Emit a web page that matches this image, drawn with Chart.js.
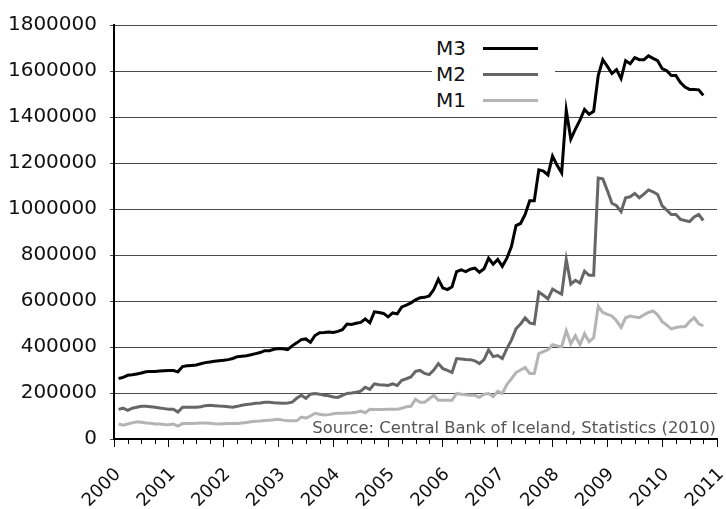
<!DOCTYPE html>
<html>
<head>
<meta charset="utf-8">
<script src="https://cdn.jsdelivr.net/npm/chart.js@4.4.1/dist/chart.umd.min.js"></script>
<style>
    body { margin: 0; background: #fff; }
    #wrap { position: relative; width: 726px; height: 509px; }
    #legend {
        position: absolute; left: 432px; top: 35px; width: 123px;
        background: #fff; font: 20px "DejaVu Sans", sans-serif; color: #111;
    }
    .item { display: flex; align-items: center; height: 26px; }
    .item .lbl { width: 51px; padding-left: 4px; box-sizing: border-box; }
    .item .line { width: 55px; height: 3px; }
</style>
</head>
<body>
<div id="wrap">
    <canvas id="chart" width="726" height="509"></canvas>
    <div id="legend"></div>
</div>
<script>
// Money supply in Iceland, monthly (end of month), Jan 2000 - Sep 2010
const startYear = 2000;
const yearTicks = [2000, 2001, 2002, 2003, 2004, 2005, 2006, 2007, 2008, 2009, 2010, 2011];
const yTicks = [0, 200000, 400000, 600000, 800000, 1000000, 1200000, 1400000, 1600000, 1800000];
const seriesNames = ['M3', 'M2', 'M1'];
const sourceNote = 'Source: Central Bank of Iceland, Statistics (2010)';

const m3 = [
    263000, 268000, 277000, 279000, 283000, 287000, 292000, 294000, 294000, 296000, 297000, 298000,
    298000, 292000, 315000, 318000, 320000, 322000, 327000, 332000, 335000, 338000, 340000, 342000,
    345000, 350000, 358000, 360000, 362000, 366000, 371000, 376000, 384000, 384000, 390000, 393000,
    392000, 388000, 405000, 418000, 432000, 435000, 420000, 450000, 462000, 463000, 465000, 463000,
    468000, 475000, 500000, 498000, 503000, 507000, 522000, 505000, 553000, 550000, 546000, 531000,
    548000, 544000, 574000, 582000, 592000, 605000, 614000, 616000, 622000, 650000, 695000, 656000,
    650000, 662000, 728000, 735000, 728000, 738000, 743000, 725000, 740000, 786000, 760000, 781000,
    751000, 786000, 837000, 928000, 937000, 976000, 1036000, 1036000, 1170000, 1165000, 1148000, 1230000,
    1190000, 1157000, 1429000, 1304000, 1347000, 1386000, 1433000, 1412000, 1425000, 1580000, 1649000, 1620000,
    1589000, 1606000, 1567000, 1645000, 1632000, 1658000, 1649000, 1649000, 1666000, 1655000, 1645000, 1610000,
    1601000, 1580000, 1580000, 1550000, 1530000, 1520000, 1520000, 1518000, 1494000
];
const m2 = [
    129000, 134000, 125000, 134000, 138000, 142000, 142000, 140000, 138000, 135000, 132000, 129000,
    129000, 117000, 138000, 138000, 138000, 138000, 140000, 145000, 147000, 145000, 143000, 142000,
    140000, 138000, 142000, 147000, 150000, 152000, 155000, 157000, 160000, 160000, 158000, 157000,
    155000, 157000, 160000, 177000, 190000, 177000, 195000, 198000, 195000, 190000, 188000, 183000,
    181000, 190000, 198000, 200000, 203000, 208000, 225000, 216000, 240000, 236000, 235000, 233000,
    240000, 233000, 255000, 262000, 270000, 294000, 298000, 285000, 280000, 300000, 328000, 306000,
    298000, 289000, 350000, 348000, 346000, 345000, 340000, 328000, 345000, 388000, 358000, 363000,
    350000, 393000, 430000, 479000, 500000, 527000, 505000, 500000, 639000, 625000, 609000, 652000,
    640000, 630000, 781000, 673000, 690000, 678000, 730000, 712000, 712000, 1135000, 1131000, 1080000,
    1025000, 1014000, 989000, 1049000, 1053000, 1068000, 1049000, 1065000, 1083000, 1075000, 1063000, 1014000,
    995000, 976000, 976000, 955000, 950000, 945000, 965000, 976000, 950000
];
const m1 = [
    65000, 60000, 65000, 70000, 75000, 73000, 70000, 68000, 65000, 65000, 63000, 62000,
    65000, 56000, 67000, 67000, 67000, 68000, 70000, 70000, 68000, 66000, 65000, 66000,
    67000, 67000, 67000, 70000, 72000, 75000, 77000, 78000, 80000, 82000, 84000, 86000,
    82000, 79000, 79000, 79000, 95000, 91000, 100000, 112000, 108000, 104000, 106000, 110000,
    112000, 112000, 113000, 114000, 116000, 121000, 114000, 129000, 128000, 128000, 128000, 129000,
    129000, 129000, 134000, 140000, 142000, 173000, 160000, 160000, 175000, 190000, 168000, 168000,
    168000, 168000, 198000, 195000, 192000, 190000, 190000, 181000, 195000, 198000, 185000, 207000,
    198000, 237000, 262000, 289000, 300000, 311000, 285000, 285000, 371000, 380000, 388000, 410000,
    405000, 401000, 471000, 414000, 449000, 410000, 458000, 423000, 440000, 578000, 550000, 542000,
    535000, 514000, 485000, 527000, 535000, 530000, 527000, 540000, 550000, 557000, 540000, 510000,
    495000, 479000, 485000, 488000, 488000, 510000, 527000, 501000, 492000
];

const colors = ['#000000', '#666666', '#b4b4b4'];

// month i is plotted at the end of that month
function toPoints(arr) {
    return arr.map((v, i) => ({ x: startYear + (i + 1) / 12, y: v }));
}

// quarterly minor ticks under the x axis
const minorTicks = {
    id: 'minorTicks',
    afterDraw(chart) {
        const sx = chart.scales.x;
        const ctx = chart.ctx;
        const b = chart.chartArea.bottom;
        ctx.save();
        ctx.strokeStyle = '#000';
        ctx.lineWidth = 1;
        for (let q = yearTicks[0]; q < yearTicks[yearTicks.length - 1]; q += 0.25) {
            if (Number.isInteger(q)) continue;
            const px = Math.round(sx.getPixelForValue(q)) + 0.5;
            ctx.beginPath();
            ctx.moveTo(px, b);
            ctx.lineTo(px, b + 5);
            ctx.stroke();
        }
        ctx.restore();
    }
};

// source line in the bottom right of the plot
const sourceText = {
    id: 'sourceText',
    afterDatasetsDraw(chart) {
        const a = chart.chartArea;
        const ctx = chart.ctx;
        ctx.save();
        ctx.font = '16.4px "DejaVu Sans"';
        ctx.fillStyle = '#555';
        ctx.textAlign = 'right';
        ctx.textBaseline = 'alphabetic';
        ctx.fillText(sourceNote, a.right - 1, a.bottom - 6);
        ctx.restore();
    }
};

const chart = new Chart(document.getElementById('chart'), {
    type: 'line',
    data: {
        datasets: [m3, m2, m1].map((arr, i) => ({
            label: seriesNames[i],
            data: toPoints(arr),
            borderColor: colors[i],
            backgroundColor: colors[i],
            borderWidth: 3,
            pointRadius: 0,
            tension: 0,
        })),
    },
    options: {
        responsive: false,
        animation: false,
        layout: { padding: { left: 8, right: 0, top: 3, bottom: 0 } },
        plugins: {
            legend: { display: false },
            tooltip: { enabled: false },
        },
        scales: {
            x: {
                type: 'linear',
                min: yearTicks[0],
                max: yearTicks[yearTicks.length - 1],
                afterBuildTicks: (scale) => { scale.ticks = yearTicks.map(v => ({ value: v })); },
                afterFit: (scale) => {
                    scale.height = 70;
                    scale.paddingLeft = 0;
                    scale.paddingRight = 9;
                },
                grid: { drawOnChartArea: false, tickLength: 8, tickColor: '#000' },
                border: { color: '#000', width: 2 },
                ticks: {
                    font: { family: 'DejaVu Sans', size: 18 },
                    color: '#111',
                    minRotation: 45,
                    maxRotation: 45,
                    padding: 17,
                    labelOffset: 4,
                    autoSkip: false,
                    callback: (v) => String(v),
                },
            },
            y: {
                min: yTicks[0],
                max: yTicks[yTicks.length - 1],
                afterBuildTicks: (scale) => { scale.ticks = yTicks.map(v => ({ value: v })); },
                afterFit: (scale) => { scale.width = 106; },
                grid: { color: '#4a4a4a', lineWidth: 1, tickLength: 4, tickColor: '#4a4a4a' },
                border: { color: '#000', width: 2 },
                ticks: {
                    font: { family: 'DejaVu Sans', size: 20 },
                    color: '#111',
                    padding: 13,
                    callback: (v) => String(v),
                },
            },
        },
    },
    plugins: [minorTicks, sourceText],
});

// legend: label on the left, line sample on the right
const legend = document.getElementById('legend');
chart.data.datasets.forEach(ds => {
    const item = document.createElement('div');
    item.className = 'item';
    item.innerHTML = `<span class="lbl">${ds.label}</span><span class="line" style="background:${ds.borderColor}"></span>`;
    legend.appendChild(item);
});
</script>
</body>
</html>
